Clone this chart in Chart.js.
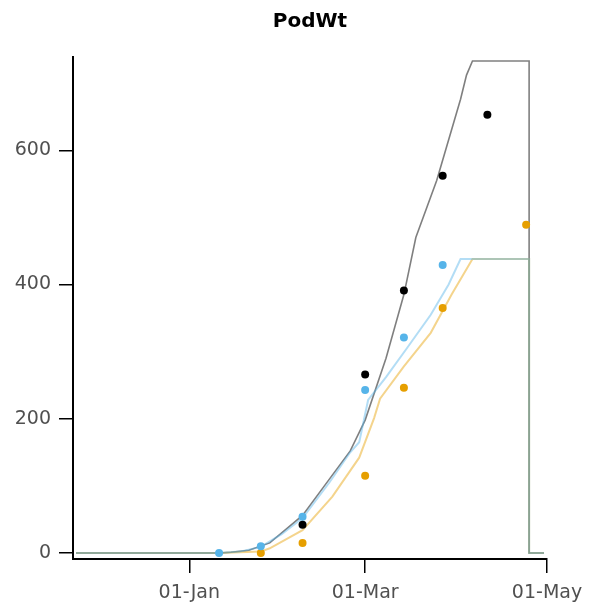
<!DOCTYPE html>
<html>
<head>
<meta charset="utf-8">
<title>PodWt</title>
<script src="https://cdn.jsdelivr.net/npm/chart.js@4/dist/chart.umd.min.js"></script>
<style>
  html, body { margin: 0; padding: 0; background: #ffffff; }
  #wrap { width: 589px; height: 612px; }
</style>
</head>
<body>
<div id="wrap"><canvas id="chart" width="589" height="612"></canvas></div>
<script>
// Simulated pod weight (lines)
const simBlackDates  = ['2021-11-24','2022-01-11','2022-01-15','2022-01-21','2022-01-28','2022-02-08','2022-02-17','2022-02-24','2022-03-01','2022-03-08','2022-03-14','2022-03-18','2022-03-25','2022-04-02','2022-04-04','2022-04-06','2022-04-25','2022-04-25','2022-04-30'];
const simBlackValues = [0, 0, 1, 4, 15, 56, 110, 152, 198, 290, 385, 470, 555, 676, 712, 733, 733, 0, 0];

const simBlueDates  = ['2021-11-24','2022-01-11','2022-01-18','2022-01-25','2022-02-01','2022-02-08','2022-02-17','2022-02-24','2022-02-27','2022-03-02','2022-03-08','2022-03-15','2022-03-23','2022-03-29','2022-04-02','2022-04-25','2022-04-25','2022-04-30'];
const simBlueValues = [0, 0, 2, 9, 28, 52, 105, 150, 165, 228, 262, 305, 355, 400, 438, 438, 0, 0];

const simOrangeDates  = ['2021-11-24','2022-01-11','2022-01-25','2022-01-28','2022-02-08','2022-02-18','2022-02-27','2022-03-04','2022-03-06','2022-03-14','2022-03-23','2022-03-30','2022-04-06','2022-04-25','2022-04-25','2022-04-30'];
const simOrangeValues = [0, 0, 2, 7, 34, 84, 142, 201, 230, 278, 328, 385, 438, 438, 0, 0];

// Observed pod weight (points)
const obsBlackDates  = ['2022-02-08','2022-03-01','2022-03-14','2022-03-27','2022-04-11'];
const obsBlackValues = [42, 266, 391, 562, 653];

const obsBlueDates  = ['2022-01-11','2022-01-25','2022-02-08','2022-03-01','2022-03-14','2022-03-27'];
const obsBlueValues = [0, 10, 54, 243, 321, 429];

const obsOrangeDates  = ['2022-01-25','2022-02-08','2022-03-01','2022-03-14','2022-03-27','2022-04-24'];
const obsOrangeValues = [0, 15, 115, 246, 365, 489];

// Axis ticks
const xTickDates  = ['2022-01-01','2022-03-01','2022-05-01'];
const xTickLabels = ['01-Jan','01-Mar','01-May'];
const yTickValues = [0, 200, 400, 600];

// x axis is measured in days from 1 Jan 2022
const ORIGIN = Date.UTC(2022, 0, 1);
function dayOf(s) {
  const p = s.split('-').map(Number);
  return Math.round((Date.UTC(p[0], p[1] - 1, p[2]) - ORIGIN) / 86400000);
}
function pairs(dates, values) {
  return dates.map((d, i) => ({ x: dayOf(d), y: values[i] }));
}
const xTickDays = xTickDates.map(dayOf);

const FONT = "'DejaVu Sans', sans-serif";

function lineSet(dates, values, color, width) {
  return {
    type: 'line', data: pairs(dates, values), borderColor: color, borderWidth: width,
    pointRadius: 0, tension: 0, fill: false, order: 2
  };
}
function pointSet(dates, values, color) {
  return {
    type: 'scatter', data: pairs(dates, values), backgroundColor: color, borderColor: color,
    borderWidth: 0, pointRadius: 4, showLine: false, order: 0
  };
}

new Chart(document.getElementById('chart'), {
  type: 'line',
  data: {
    datasets: [
      pointSet(obsBlackDates, obsBlackValues, '#000000'),
      pointSet(obsBlueDates, obsBlueValues, '#56B4E9'),
      pointSet(obsOrangeDates, obsOrangeValues, '#E69F00'),
      lineSet(simBlueDates, simBlueValues, 'rgba(86,180,233,0.45)', 2),
      lineSet(simOrangeDates, simOrangeValues, 'rgba(230,159,0,0.45)', 2),
      lineSet(simBlackDates, simBlackValues, 'rgba(0,0,0,0.5)', 1.6)
    ]
  },
  options: {
    responsive: false,
    animation: false,
    layout: { autoPadding: false, padding: { left: 0, right: 42, top: 0, bottom: 0 } },
    plugins: {
      legend: { display: false },
      tooltip: { enabled: false },
      title: {
        display: true, text: 'PodWt', fullSize: false, color: '#000000',
        font: { family: FONT, size: 20, weight: 'bold', lineHeight: 1.2 },
        padding: { top: 10, bottom: 23 }
      }
    },
    scales: {
      x: {
        type: 'linear', min: -39, max: 120,
        afterBuildTicks: (s) => { s.ticks = xTickDays.map(v => ({ value: v })); },
        afterFit: (s) => { s.height = 53; s.paddingLeft = 0; s.paddingRight = 0; },
        ticks: {
          color: '#505050', padding: 9, maxRotation: 0, autoSkip: false,
          font: { family: FONT, size: 19 },
          callback: (v) => { const i = xTickDays.indexOf(v); return i >= 0 ? xTickLabels[i] : ''; }
        },
        grid: { display: true, drawOnChartArea: false, drawTicks: true, tickLength: 14, color: '#000000', lineWidth: 1.5 },
        border: { display: true, color: '#000000', width: 2 }
      },
      y: {
        type: 'linear', min: -9, max: 739,
        afterBuildTicks: (s) => { s.ticks = yTickValues.map(v => ({ value: v })); },
        afterFit: (s) => { s.width = 73; s.paddingTop = 0; s.paddingBottom = 0; },
        ticks: {
          color: '#505050', padding: 8,
          font: { family: FONT, size: 19 },
          callback: (v) => String(v)
        },
        grid: { display: true, drawOnChartArea: false, drawTicks: true, tickLength: 14, color: '#000000', lineWidth: 1.5 },
        border: { display: true, color: '#000000', width: 2 }
      }
    }
  }
});
</script>
</body>
</html>
